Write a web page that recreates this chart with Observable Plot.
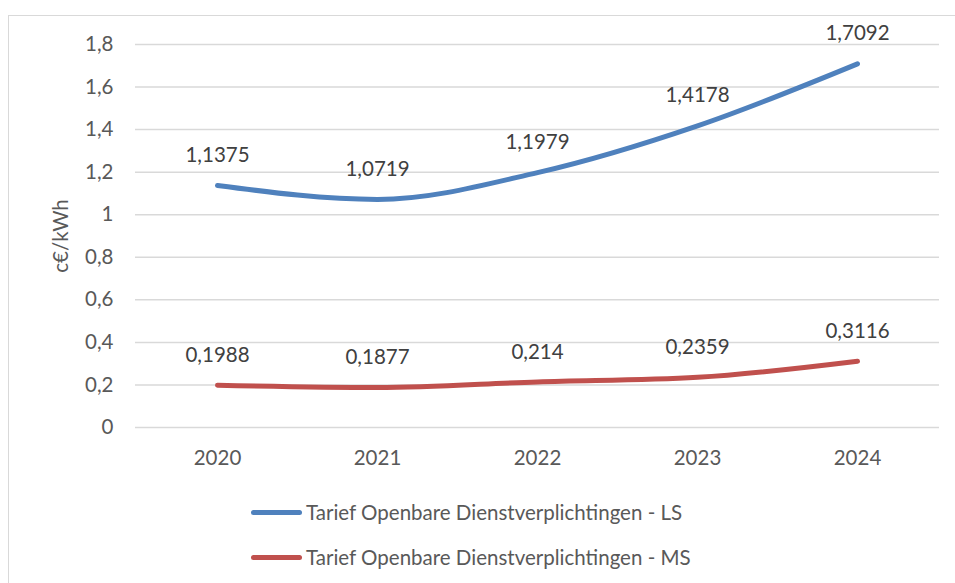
<!DOCTYPE html>
<html>
<head>
<meta charset="utf-8">
<script src="https://cdn.jsdelivr.net/npm/d3@7"></script>
<script src="https://cdn.jsdelivr.net/npm/@observablehq/plot@0.6"></script>
<style>
  html, body { margin: 0; padding: 0; background: #fff; width: 955px; height: 583px; overflow: hidden; }
  #frame { position: absolute; left: 8px; top: 15px; width: 1000px; height: 700px; border: 1.5px solid #d9d9d9; box-sizing: border-box; }
  #chart { position: absolute; left: 0; top: 0; }
  #legend { position: absolute; left: 251px; top: 497px; font-family: Lato, "Open Sans", sans-serif; font-size: 20.5px; color: #595959; }
  .row { display: flex; align-items: center; height: 30px; margin-bottom: 15px; }
  .sw { width: 51px; height: 5px; border-radius: 3px; margin-right: 4px; }
</style>
</head>
<body>
<div id="frame"></div>
<div id="chart"></div>
<div id="legend"></div>
<script>
const years = ["2020", "2021", "2022", "2023", "2024"];
const lsValues = [1.1375, 1.0719, 1.1979, 1.4178, 1.7092];
const msValues = [0.1988, 0.1877, 0.214, 0.2359, 0.3116];
const seriesNames = ["Tarief Openbare Dienstverplichtingen - LS", "Tarief Openbare Dienstverplichtingen - MS"];
const seriesColors = ["#4f81bd", "#c0504d"];
const yTicks = [0, 0.2, 0.4, 0.6, 0.8, 1, 1.2, 1.4, 1.6, 1.8];
const yLabel = "c€/kWh";

const data = [];
years.forEach((y, i) => data.push({year: y, value: lsValues[i], series: seriesNames[0]}));
years.forEach((y, i) => data.push({year: y, value: msValues[i], series: seriesNames[1]}));

const fmt = v => String(v).replace(".", ",");
const FS = 20.5;

const chart = Plot.plot({
  width: 955,
  height: 480,
  marginLeft: 135,
  marginRight: 16,
  marginTop: 44,
  marginBottom: 53,
  style: {fontFamily: "Lato, 'Open Sans', sans-serif", fontSize: FS + "px", color: "#595959", background: "transparent"},
  x: {type: "point", domain: years, padding: 0.5},
  y: {domain: [0, 1.8], ticks: yTicks},
  color: {domain: seriesNames, range: seriesColors},
  marks: [
    Plot.gridY(yTicks, {stroke: "#d9d9d9", strokeOpacity: 1, strokeWidth: 1.5}),
    Plot.axisY(yTicks, {tickSize: 0, tickPadding: 22, tickFormat: fmt, fill: "#595959", fontSize: FS,
      label: yLabel, labelAnchor: "center", labelOffset: 82, labelArrow: "none"}),
    Plot.axisX(years, {tickSize: 0, tickPadding: 23, fill: "#595959", fontSize: FS, label: null}),
    Plot.line(data, {x: "year", y: "value", z: "series", stroke: "series", strokeWidth: 5, curve: "monotone-x", strokeLinecap: "round", strokeLinejoin: "round"}),
    Plot.text(data, {x: "year", y: "value", text: d => fmt(d.value), dy: -30, fill: "#404040", fontSize: FS})
  ]
});
document.getElementById("chart").appendChild(chart);

const legend = document.getElementById("legend");
seriesNames.forEach((name, i) => {
  const row = document.createElement("div");
  row.className = "row";
  const sw = document.createElement("div");
  sw.className = "sw";
  sw.style.background = seriesColors[i];
  const t = document.createElement("span");
  t.textContent = name;
  row.appendChild(sw);
  row.appendChild(t);
  legend.appendChild(row);
});
</script>
</body>
</html>
